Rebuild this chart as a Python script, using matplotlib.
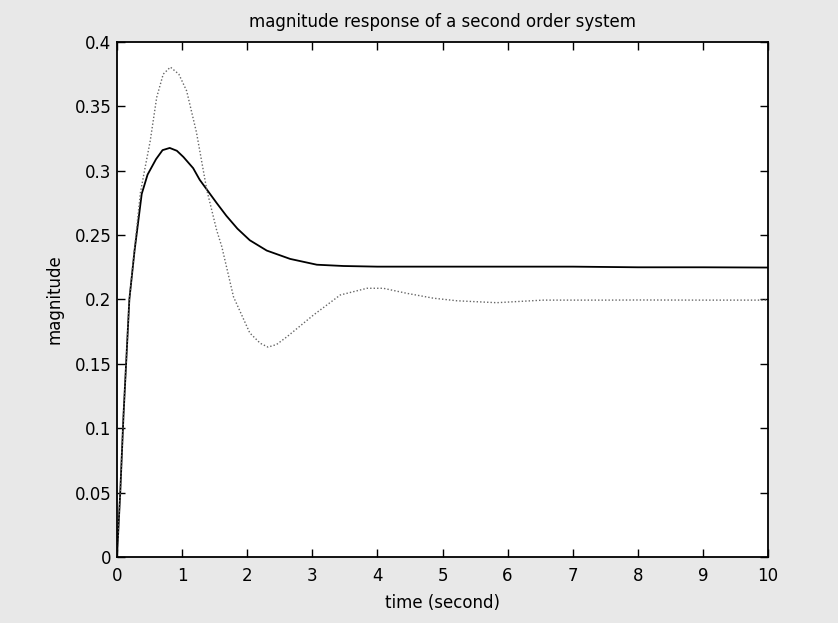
import matplotlib
matplotlib.use("Agg")
import matplotlib.pyplot as plt

# ---- data ----
t_solid = [0, 0.02, 0.05, 0.1, 0.14, 0.19, 0.27, 0.38, 0.47, 0.6, 0.7, 0.81, 0.92, 1.02,
           1.17, 1.27, 1.4, 1.53, 1.68, 1.85, 2.04, 2.3, 2.66, 3.07, 3.48, 4.0,
           5.0, 6.0, 7.0, 8.0, 9.0, 10.0]
v_solid = [0, 0.02, 0.05, 0.11, 0.15, 0.2, 0.238, 0.282, 0.297, 0.309, 0.316, 0.3177, 0.3155, 0.3107,
           0.302, 0.293, 0.284, 0.275, 0.265, 0.255, 0.246, 0.238, 0.2315, 0.227, 0.226, 0.2255,
           0.2255, 0.2255, 0.2255, 0.225, 0.225, 0.2248]

t_dotted = [0, 0.02, 0.05, 0.1, 0.14, 0.19, 0.27, 0.36, 0.43, 0.51, 0.61, 0.71, 0.82, 0.95,
            1.07, 1.22, 1.38, 1.53, 1.61, 1.79, 2.04, 2.2, 2.32, 2.45, 2.61, 3.02, 3.43,
            3.84, 4.09, 4.45, 4.86, 5.22, 5.83, 6.55, 7.5, 8.03, 9.0, 10.0]
v_dotted = [0, 0.02, 0.05, 0.11, 0.15, 0.2, 0.24, 0.283, 0.302, 0.323, 0.357, 0.375, 0.3805, 0.375,
            0.362, 0.33, 0.285, 0.254, 0.241, 0.202, 0.174, 0.166, 0.163, 0.165, 0.171, 0.188, 0.2035,
            0.2087, 0.2087, 0.2048, 0.201, 0.199, 0.1975, 0.1995, 0.1995, 0.1996, 0.1995, 0.1995]

x_ticks = [0, 1, 2, 3, 4, 5, 6, 7, 8, 9, 10]
x_tick_labels = ["0", "1", "2", "3", "4", "5", "6", "7", "8", "9", "10"]
y_ticks = [0, 0.05, 0.1, 0.15, 0.2, 0.25, 0.3, 0.35, 0.4]
y_tick_labels = ["0", "0.05", "0.1", "0.15", "0.2", "0.25", "0.3", "0.35", "0.4"]

title_text = "magnitude response of a second order system"
x_label = "time (second)"
y_label = "magnitude"

# ---- figure ----
plt.rcParams['font.family'] = ['DejaVu Sans']

fig = plt.figure(figsize=(8.38, 6.23), dpi=100, facecolor='#e8e8e8')
ax = fig.add_axes([0.1396, 0.106, 0.7769, 0.8266])
ax.set_facecolor('white')

ax.plot(t_solid, v_solid, color='black', linewidth=1.3, linestyle='-')
ax.plot(t_dotted, v_dotted, color='#666666', linewidth=1.0, linestyle=(0, (1, 1.5)))

ax.set_xlim(0, 10)
ax.set_ylim(0, 0.4)
ax.set_xticks(x_ticks)
ax.set_xticklabels(x_tick_labels)
ax.set_yticks(y_ticks)
ax.set_yticklabels(y_tick_labels)

ax.tick_params(direction='in', length=6, width=1, top=True, right=True,
               labelsize=12, colors='black')
ax.tick_params(axis='x', pad=7)
ax.tick_params(axis='y', pad=4)
for s in ax.spines.values():
    s.set_linewidth(1.3)
    s.set_color('black')

ax.set_title(title_text, fontsize=12, pad=11)
ax.set_xlabel(x_label, fontsize=12, labelpad=7)
ax.set_ylabel(y_label, fontsize=12, labelpad=8)

fig.savefig("out.png", dpi=100, facecolor=fig.get_facecolor())
